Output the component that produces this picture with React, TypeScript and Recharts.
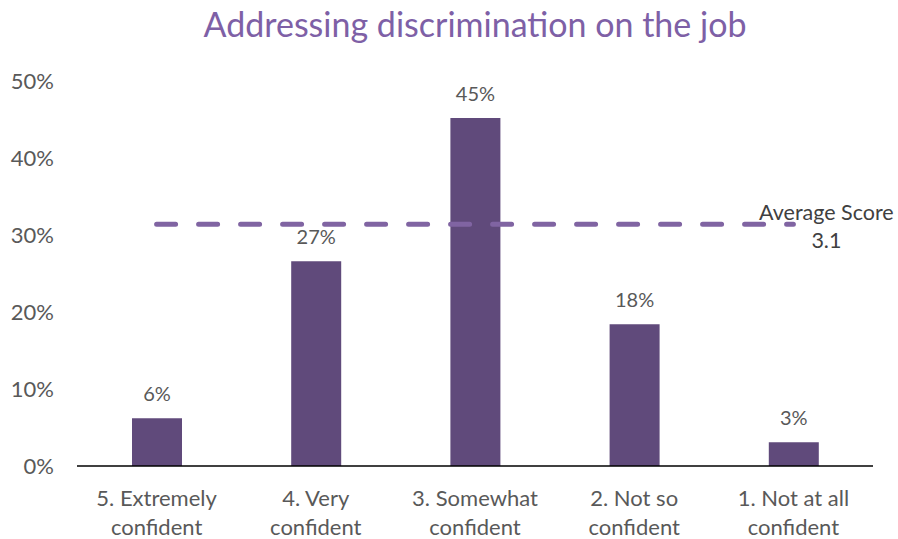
import { ComposedChart, Bar, Line, XAxis, YAxis, LabelList } from "recharts";

const categories = [
  "5. Extremely\nconfident",
  "4. Very\nconfident",
  "3. Somewhat\nconfident",
  "2. Not so\nconfident",
  "1. Not at all\nconfident",
];
const shares = [6.2, 26.6, 45.2, 18.4, 3.1];
const shareLabels = ["6%", "27%", "45%", "18%", "3%"];
const averageLevel = 31.4;
const averageScore = "3.1";
const yTicks = [0, 10, 20, 30, 40, 50];

const data = categories.map((name, i) => ({
  name,
  share: shares[i],
  label: shareLabels[i],
  avg: averageLevel,
}));

const FONT = "Lato, 'DejaVu Sans', sans-serif";

const CategoryTick = (props: any) => {
  const { x, y, payload } = props;
  const lines = String(payload.value).split("\n");
  return (
    <text x={x} textAnchor="middle" fill="#595959" fontSize={22} fontFamily={FONT}>
      {lines.map((l, i) => (
        <tspan key={i} x={x} y={y + 40 + i * 29}>
          {l}
        </tspan>
      ))}
    </text>
  );
};

const AverageLabel = (props: any) => {
  const { x, y, index } = props;
  if (index !== categories.length - 1) return null;
  return (
    <text textAnchor="middle" fill="#404040" fontSize={21.5} fontFamily={FONT}>
      <tspan x={x + 33} y={y - 4}>Average Score</tspan>
      <tspan x={x + 33} y={y + 24}>{averageScore}</tspan>
    </text>
  );
};

export default function App() {
  return (
    <div style={{ position: "absolute", left: 0, top: 0, width: 898, height: 539, background: "#fff" }}>
      <div
        style={{
          position: "absolute",
          left: 77,
          width: 796,
          top: 7,
          textAlign: "center",
          fontFamily: FONT,
          fontSize: 34,
          lineHeight: "34px",
          color: "#7E60A6",
        }}
      >
        Addressing discrimination on the job
      </div>
      <ComposedChart width={898} height={539} data={data} margin={{ top: 81, right: 25, bottom: 0, left: 0 }}>
        <XAxis
          dataKey="name"
          interval={0}
          height={73}
          tickLine={false}
          tickSize={0}
          tickMargin={0}
          axisLine={{ stroke: "#000", strokeWidth: 1.5 }}
          tick={<CategoryTick />}
        />
        <YAxis
          domain={[0, 50]}
          ticks={yTicks}
          width={77}
          axisLine={false}
          tickLine={false}
          tickSize={0}
          tickMargin={23}
          tickFormatter={(v: number) => `${v}%`}
          tick={{ fill: "#595959", fontSize: 22, fontFamily: FONT }}
        />
        <Bar dataKey="share" fill="#604A7B" barSize={50} isAnimationActive={false}>
          <LabelList
            dataKey="label"
            position="top"
            offset={17}
            fill="#595959"
            fontSize={20}
            fontFamily={FONT}
          />
        </Bar>
        <Line
          dataKey="avg"
          stroke="#8064A2"
          strokeWidth={5}
          strokeDasharray="19 23"
          strokeLinecap="round"
          dot={false}
          activeDot={false}
          isAnimationActive={false}
        >
          <LabelList dataKey="avg" content={<AverageLabel />} />
        </Line>
      </ComposedChart>
    </div>
  );
}
